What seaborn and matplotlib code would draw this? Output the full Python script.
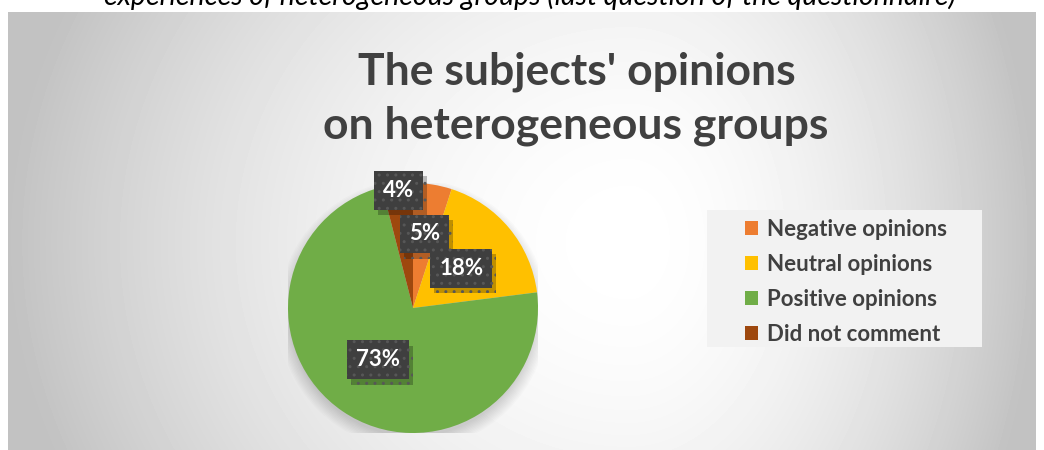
import numpy as np
import matplotlib
matplotlib.use("Agg")
import matplotlib.pyplot as plt
import matplotlib.patheffects as pe
from matplotlib.patches import Rectangle, Circle
import seaborn as sns

# ── Data ──────────────────────────────────────────────
categories = ["Negative opinions", "Neutral opinions", "Positive opinions", "Did not comment"]
shares     = [5, 18, 73, 4]
title      = ["The subjects' opinions", "on heterogeneous groups"]
caption    = "experiences of heterogeneous groups (last question of the questionnaire)"

# ── Style ─────────────────────────────────────────────
colors     = sns.color_palette(["#ED7D31", "#FFC000", "#70AD47", "#9E480E"])
label_dist = [0.60, 0.50, 0.50, 0.95]
TEXT_DARK  = "#404040"

sns.set_theme(style="white")
plt.rcParams["font.family"] = ["Lato", "DejaVu Sans"]

W, H = 1044, 450
fig = plt.figure(figsize=(W / 100, H / 100), dpi=100)
fig.patch.set_facecolor("white")

# ── Gradient panel ────────────────────────────────────
bg = fig.add_axes([8 / W, 0, (1036 - 8) / W, (H - 12) / H])
xx, yy = np.meshgrid(np.arange(1028), np.arange(438))
cx, cy = 620, 230
ax_half = np.where(xx < cx, cx, 1028 - cx)
t = np.sqrt(((xx - cx) / ax_half) ** 2 + ((yy - cy) / 560) ** 2)
val = 1 - 0.24 * np.clip(t, 0, 1) ** 1.8
bg.imshow(val, cmap="gray", vmin=0, vmax=1, aspect="auto", interpolation="bilinear")
bg.set_axis_off()

# ── Caption (cropped at top, as in the source) ────────
fig.text(530 / W, 1 - 5 / H, caption, ha="center", va="baseline",
         fontsize=20.5, style="italic", color="black")

# ── Title ─────────────────────────────────────────────
fig.text(577 / W, 1 - 84 / H, title[0], ha="center", va="baseline",
         fontsize=32, fontweight="bold", color=TEXT_DARK)
fig.text(576 / W, 1 - 139 / H, title[1], ha="center", va="baseline",
         fontsize=32, fontweight="bold", color=TEXT_DARK)

# ── Pie ───────────────────────────────────────────────
R = 125
cxp, cyp = 413, 308
ax = fig.add_axes([(cxp - R) / W, 1 - (cyp + R) / H, 2 * R / W, 2 * R / H])
ax.set_facecolor("none")

# soft shadow under the pie
for i in range(10):
    ax.add_patch(Circle((0.0, -0.05), 0.98 + i * 0.011, color="black",
                        alpha=0.016, lw=0, zorder=0))

wedges, _ = ax.pie(shares, colors=colors, startangle=90, counterclock=False,
                   radius=1, wedgeprops=dict(linewidth=0))
for w in wedges:
    w.set_zorder(2)
ax.set_xlim(-1, 1)
ax.set_ylim(-1, 1)
ax.set_aspect("equal")
ax.set_axis_off()

for w, d, s in zip(wedges, label_dist, shares):
    ang = np.deg2rad((w.theta1 + w.theta2) / 2)
    x, y = d * np.cos(ang), d * np.sin(ang)
    txt = ax.text(x, y, f"{s}%", ha="center", va="center", fontsize=16,
                  fontweight="bold", color="white", zorder=4,
                  bbox=dict(boxstyle="square,pad=0.4", facecolor="#3f3f3f",
                            edgecolor="#575757", hatch="..", lw=0))
    txt.get_bbox_patch().set_path_effects([
        pe.SimplePatchShadow(offset=(3, -4), shadow_rgbFace="black", alpha=0.25),
        pe.Normal()])

# ── Legend ────────────────────────────────────────────
fig.patches.append(Rectangle((707 / W, 1 - 347 / H), 275 / W, 137 / H,
                             transform=fig.transFigure, facecolor="#f2f2f2",
                             edgecolor="none", zorder=1))
leg = fig.legend(wedges, categories, loc="upper left",
                 bbox_to_anchor=(729 / W, 1 - 203 / H), frameon=False,
                 prop=dict(size=16, weight="bold"), labelcolor=TEXT_DARK,
                 handlelength=0.6, handleheight=0.6, handletextpad=0.4,
                 labelspacing=0.63, borderpad=0.2)

fig.savefig("out.png", dpi=100)
